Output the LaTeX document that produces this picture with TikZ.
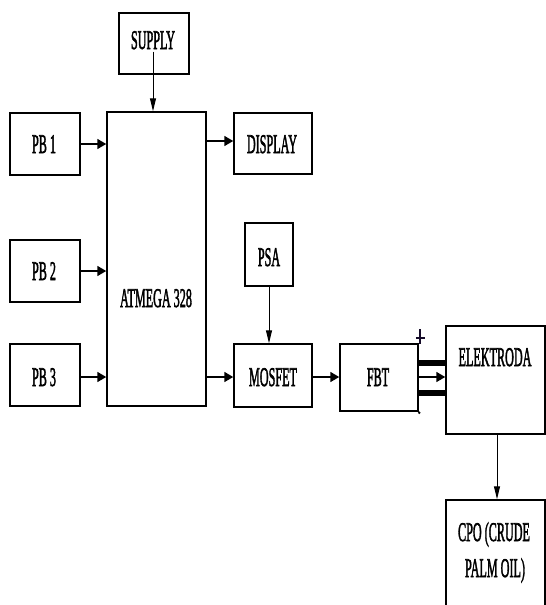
\documentclass[tikz,border=0pt]{standalone}
\usepackage{fontspec}
\setmainfont{Liberation Serif}[FakeBold=2.5]
\usetikzlibrary{arrows.meta,calc}
\newcommand\sqz[1]{\scalebox{0.45}[1]{#1}}
\definecolor{plusc}{RGB}{20,10,40}
\tikzset{
  box/.style={draw, line width=1.5pt, inner sep=0pt},
  lbl/.style={inner sep=0pt, anchor=base, font=\fontsize{27}{30}\selectfont},
  harr/.style={line width=1.7pt, -{Triangle[length=9pt,width=10pt]}},
  varr/.style={line width=1pt, -{Triangle[length=13pt,width=6pt]}},
  bar/.style={line width=6pt},
  plusline/.style={line width=1.6pt, draw=plusc},
}
\begin{document}
\begin{tikzpicture}[x=1pt,y=-1pt]
\useasboundingbox (0,0) rectangle (546,605);
\begin{scope}
\clip (0,0) rectangle (546,605);
% boxes
\node[box, minimum width=70pt, minimum height=61pt] (supply) at (154,43.5) {};
\node[box, minimum width=99pt, minimum height=294pt] (atmega) at (156.5,259) {};
\node[box, minimum width=78pt, minimum height=61pt] (display) at (273,143.5) {};
\node[box, minimum width=70pt, minimum height=62pt] (pb1) at (45,144) {};
\node[box, minimum width=70pt, minimum height=62pt] (pb2) at (45,271) {};
\node[box, minimum width=70pt, minimum height=62pt] (pb3) at (45,375) {};
\node[box, minimum width=48pt, minimum height=63pt] (psa) at (269,254.5) {};
\node[box, minimum width=78pt, minimum height=63pt] (mosfet) at (273,375.5) {};
\node[box, minimum width=78pt, minimum height=67pt] (fbt) at (379,377.5) {};
\node[box, minimum width=99pt, minimum height=108pt] (elek) at (495.5,380) {};
\node[box, minimum width=99pt, minimum height=130pt] (cpo) at (495.5,565) {};
% labels
\node[lbl] (tsupply) at (153,49) {\sqz{SUPPLY}};
\node[lbl] (tdisplay) at (272,153) {\sqz{DISPLAY}};
\node[lbl] (tatmega) at (156,307) {\sqz{ATMEGA 328}};
\node[lbl] (tpb1) at (44,153) {\sqz{PB 1}};
\node[lbl] (tpb2) at (44,280) {\sqz{PB 2}};
\node[lbl] (tpb3) at (44,386) {\sqz{PB 3}};
\node[lbl] (tpsa) at (269,266) {\sqz{PSA}};
\node[lbl] (tmosfet) at (273,386) {\sqz{MOSFET}};
\node[lbl] (tfbt) at (378,386) {\sqz{FBT}};
\node[lbl] (telek) at (495,366) {\sqz{ELEKTRODA}};
\node[lbl] (tcpo1) at (494,541) {\sqz{CPO (CRUDE}};
\node[lbl] (tcpo2) at (495,577) {\sqz{PALM OIL)}};
% connectors
\coordinate (sstart) at ($(supply.center)+(-1,8)$);
\draw[varr] (sstart) -- (sstart |- atmega.north);
\draw[harr] (pb1.east) -- (pb1.east -| atmega.west);
\draw[harr] (pb2.east) -- (pb2.east -| atmega.west);
\draw[harr] (pb3.east |- 0,377) -- (pb3.east |- 0,377 -| atmega.west);
\draw[harr] (atmega.east |- 0,141) -- (display.west |- 0,141);
\draw[harr] (atmega.east |- 0,377) -- (mosfet.west |- 0,377);
\draw[varr] (psa.south) -- (psa.south |- mosfet.north);
\draw[harr] (mosfet.east |- 0,377) -- (fbt.west |- 0,377);
\draw[bar] (fbt.east |- 0,363) -- (elek.west |- 0,363);
\draw[bar] (fbt.east |- 0,393) -- (elek.west |- 0,393);
\draw[harr] (fbt.east |- 0,377) -- (elek.west |- 0,377);
\draw[varr] ($(elek.south)+(1.5,0)$) -- ($(cpo.north)+(1.5,0)$);
% + mark and dot on FBT
\coordinate (plus) at ($(fbt.north east)+(1.5,-5)$);
\draw[plusline] ($(plus)+(0,-9)$) -- ($(plus)+(0,6)$);
\draw[plusline] ($(plus)+(-4.5,0)$) -- ($(plus)+(4.5,0)$);
\fill ($(fbt.south east)+(0.5,1)$) circle (1.4pt);
\end{scope}
\end{tikzpicture}
\end{document}
